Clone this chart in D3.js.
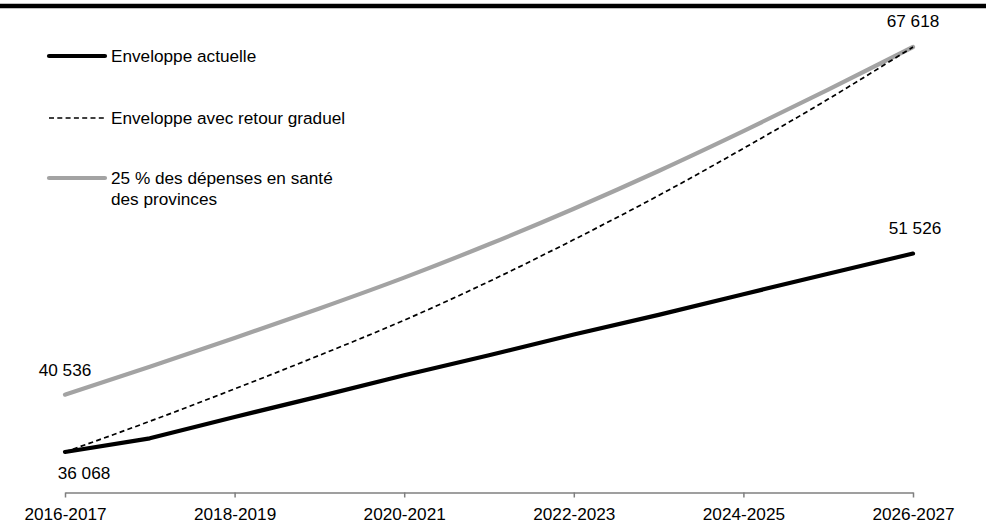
<!DOCTYPE html>
<html>
<head>
<meta charset="utf-8">
<script src="https://cdn.jsdelivr.net/npm/d3@7"></script>
<style>
  html, body { margin: 0; padding: 0; background: #fff; }
  svg { display: block; font-family: "Liberation Sans", Arial, sans-serif; }
</style>
</head>
<body>
<svg id="chart" width="986" height="527"></svg>
<script>
const categories = ["2016-2017","2017-2018","2018-2019","2019-2020","2020-2021","2021-2022","2022-2023","2023-2024","2024-2025","2025-2026","2026-2027"];
const tickLabels = ["2016-2017","2018-2019","2020-2021","2022-2023","2024-2025","2026-2027"];
const enveloppeActuelle = [36068, 37135, 38800, 40400, 42050, 43600, 45220, 46750, 48360, 49960, 51526];
const enveloppeRetour = [36068, 38460, 40983, 43600, 46335, 49350, 52614, 56050, 59718, 63560, 67618];
const depensesSante = [40536, 42713, 44950, 47250, 49654, 52250, 55021, 57960, 61066, 64290, 67618];
const seriesNames = ["Enveloppe actuelle", "Enveloppe avec retour graduel", ["25 % des dépenses en santé", "des provinces"]];

const svg = d3.select("#chart");
const W = 986, H = 527;

const x = d3.scalePoint().domain(categories).range([65, 913]);
const y = d3.scaleLinear().domain([36068, 67618]).range([452, 47]);

// top border
svg.append("line").attr("x1", 0).attr("x2", W).attr("y1", 6).attr("y2", 6)
  .attr("stroke", "#000").attr("stroke-width", 4.5);

// x axis
const axis = d3.axisBottom(x).tickValues(tickLabels).tickSize(5).tickSizeOuter(0).tickPadding(10);
const gx = svg.append("g").attr("transform", "translate(0,492.5)").call(axis);
gx.select(".domain").attr("stroke", "#7f7f7f").attr("stroke-width", 1.5);
gx.selectAll(".tick line").attr("stroke", "#7f7f7f").attr("stroke-width", 1.5);
gx.selectAll(".tick text").attr("font-size", "17.2px").attr("fill", "#000")
  .attr("font-family", "'Liberation Sans', Arial, sans-serif");

const lineLin = d3.line().x((d, i) => x(categories[i])).y(d => y(d)).curve(d3.curveLinear);
const lineSmooth = d3.line().x((d, i) => x(categories[i])).y(d => y(d)).curve(d3.curveMonotoneX);

svg.append("path").datum(depensesSante).attr("d", lineSmooth)
  .attr("fill", "none").attr("stroke", "#a3a3a3").attr("stroke-width", 4.2)
  .attr("stroke-linecap", "round").attr("stroke-linejoin", "round");
svg.append("path").datum(enveloppeRetour).attr("d", lineSmooth)
  .attr("fill", "none").attr("stroke", "#000").attr("stroke-width", 1.7).attr("stroke-dasharray", "5,3.3");
svg.append("path").datum(enveloppeActuelle).attr("d", lineLin)
  .attr("fill", "none").attr("stroke", "#000").attr("stroke-width", 4.2)
  .attr("stroke-linecap", "round").attr("stroke-linejoin", "round");

// data labels
const fmt = v => d3.format(",")(v).replace(/,/g, " ");
const last = categories.length - 1;
const labels = [
  {v: depensesSante[last], cx: x(categories[last]), dy: -26},
  {v: enveloppeActuelle[last], cx: x(categories[last]) + 2, dy: -26},
  {v: depensesSante[0], cx: x(categories[0]), dy: -25},
  {v: enveloppeActuelle[0], cx: x(categories[0]) + 19, dy: 21}
];
svg.selectAll("text.dl").data(labels).enter().append("text").attr("class", "dl")
  .attr("x", d => d.cx).attr("y", d => y(d.v) + d.dy)
  .attr("text-anchor", "middle").attr("dominant-baseline", "central")
  .attr("font-size", "17.2px").attr("fill", "#000")
  .text(d => fmt(d.v));

// legend
const legendY = [56, 118, 178];
const styles = [
  {stroke: "#000", width: 4.2, dash: null},
  {stroke: "#000", width: 1.7, dash: "5,3.3"},
  {stroke: "#a3a3a3", width: 4.2, dash: null}
];
seriesNames.forEach((name, i) => {
  const g = svg.append("g");
  g.append("line").attr("x1", 49).attr("x2", 105).attr("y1", legendY[i]).attr("y2", legendY[i])
    .attr("stroke", styles[i].stroke).attr("stroke-width", styles[i].width)
    .attr("stroke-linecap", styles[i].dash ? "butt" : "round")
    .attr("stroke-dasharray", styles[i].dash);
  const lines = Array.isArray(name) ? name : [name];
  const t = g.append("text").attr("x", 111).attr("y", legendY[i])
    .attr("font-size", "17.2px").attr("fill", "#000").attr("dominant-baseline", "central");
  lines.forEach((ln, j) => {
    t.append("tspan").attr("x", 111).attr("dy", j === 0 ? 0 : 21).text(ln);
  });
});
</script>
</body>
</html>
